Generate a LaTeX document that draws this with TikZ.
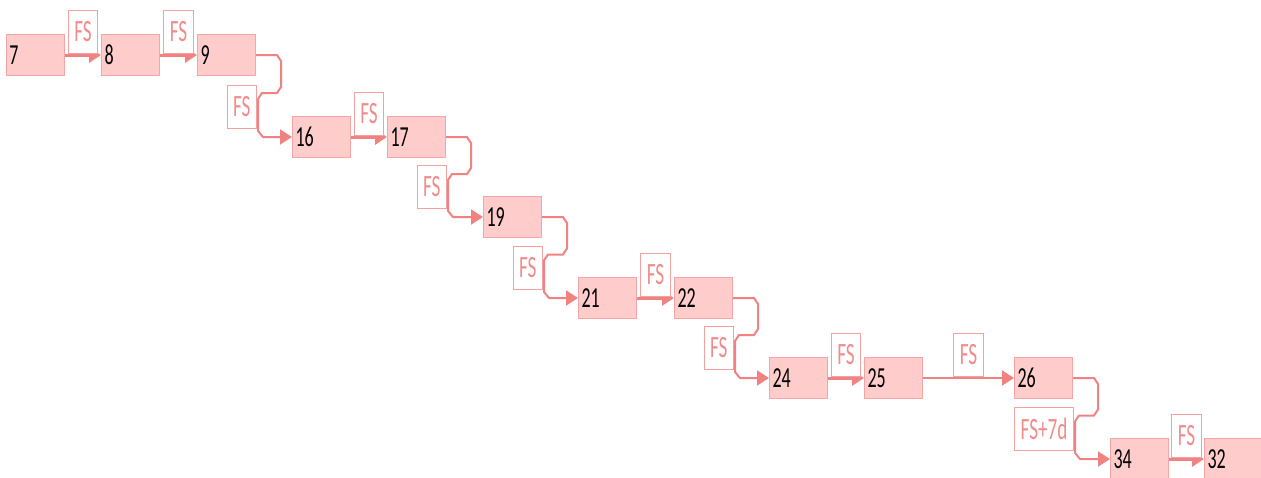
\documentclass[tikz,border=0pt]{standalone}
\usepackage{fontspec}
\setmainfont{Carlito}
\usepackage{graphicx}
\usetikzlibrary{arrows.meta,calc}

\definecolor{boxfill}{RGB}{255,204,204}
\definecolor{boxline}{RGB}{244,166,166}
\definecolor{linkcol}{RGB}{241,130,130}
\definecolor{fsline}{RGB}{243,160,160}
\definecolor{fstext}{RGB}{242,140,140}

\newcommand{\narrow}[1]{\scalebox{0.62}[1]{#1}}

\begin{document}
\begin{tikzpicture}[x=0.5pt, y=-0.5pt,
  task/.style={rectangle, draw=boxline, fill=boxfill, line width=0.5pt, anchor=north west,
    minimum height=20.5pt, inner xsep=1.5pt, text width=26pt, align=left,
    font=\fontsize{14.5}{16}\selectfont},
  fs/.style={rectangle, draw=fsline, fill=white, text=fstext, line width=0.5pt,
    minimum width=14.5pt, minimum height=21.5pt, inner xsep=3pt, inner ysep=0pt,
    font=\fontsize{15.5}{17}\selectfont},
  link/.style={draw=linkcol, line width=1pt, -{Triangle[length=6pt,width=7.5pt]}}]
\useasboundingbox (0,0) rectangle (1261,477);
\clip (0,0) rectangle (1261,477);

% activities
\node[task] (n7) at (6,34) {\narrow{7}};
\node[task] (n8) at (101,34) {\narrow{8}};
\node[task] (n9) at (197,34) {\narrow{9}};
\node[task] (n16) at (292,116) {\narrow{16}};
\node[task] (n17) at (387,116) {\narrow{17}};
\node[task] (n19) at (483,196) {\narrow{19}};
\node[task] (n21) at (578,277) {\narrow{21}};
\node[task] (n22) at (674,277) {\narrow{22}};
\node[task] (n24) at (769,357) {\narrow{24}};
\node[task] (n25) at (864,357) {\narrow{25}};
\node[task] (n26) at (1014,357) {\narrow{26}};
\node[task] (n34) at (1110,438) {\narrow{34}};
\node[task] (n32) at (1204,438) {\narrow{32}};

% links on the same row
\foreach \a/\b in {7/8, 8/9, 16/17, 21/22, 24/25, 34/32}
  \draw[link, line width=1.5pt] (n\a.east) -- node[fs, anchor=south, yshift=0.75pt] (fs\a) {\narrow{FS}} (n\b.west);
\draw[link] (n25.east) -- node[fs, anchor=south, yshift=0.75pt] (fs25) {\narrow{FS}} (n26.west);

% links down to the next row
\foreach \a/\b/\lab in {9/16/FS, 17/19/FS, 19/21/FS, 22/24/FS, 26/34/FS+7d}
  \draw[link] let \p1=(n\a.east), \p2=(n\b.west), \n1={(\y1+\y2)/2+1.5pt} in
    (\x1+0.5pt,\y2+4pt) node[fs, anchor=south east] (fs\a) {\narrow{\lab}}
    (\p1) -- (\x1+10.5pt,\y1) -- (\x1+12.5pt,\y1-3pt) -- (\x1+12.5pt,\n1+3pt)
    -- (\x1+10.5pt,\n1) -- (\x1+3pt,\n1) -- (\x1+1pt,\n1-3pt)
    -- (\x1+1pt,\y2+3pt) -- (\x1+3.5pt,\y2) -- (\p2);
\end{tikzpicture}
\end{document}
